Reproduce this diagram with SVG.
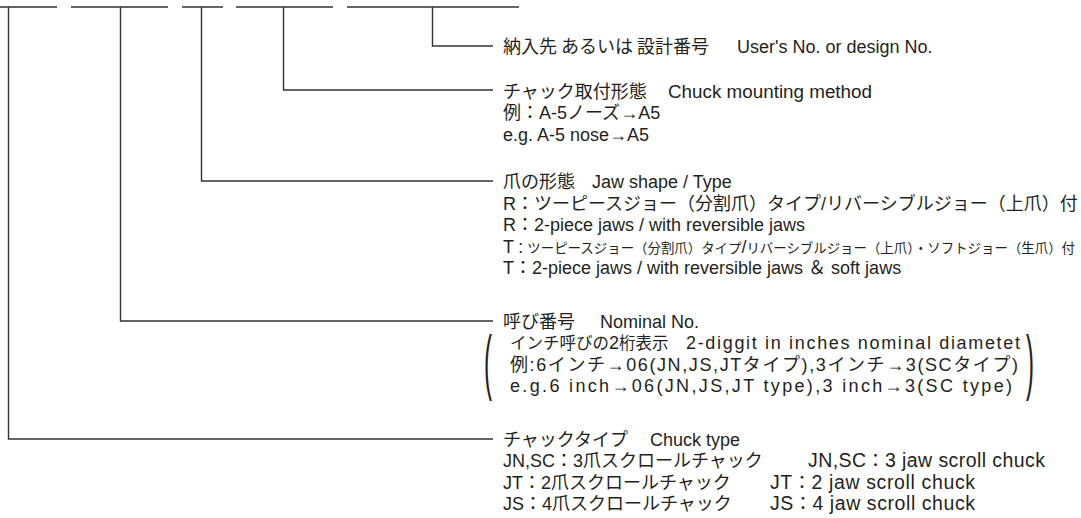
<svg xmlns="http://www.w3.org/2000/svg" width="1081" height="518" viewBox="0 0 1081 518">
<style>
.t{font-family:"Liberation Sans","Noto Sans CJK JP",sans-serif;font-size:18px;fill:#231f20}
.e{font-size:19.5px}
.j{font-family:"Noto Sans CJK JP",sans-serif;font-size:18px}
.k{font-family:"Noto Sans CJK JP",sans-serif;font-size:16.5px}
.s{font-family:"Noto Sans CJK JP",sans-serif;font-size:13.5px}
.p{font-family:"Liberation Sans",sans-serif;font-size:24px;fill:#231f20}
.ln{stroke:#333;stroke-width:1.4;fill:none}
</style>
<rect width="1081" height="518" fill="#fff"/>
<g id="connectors">
<path class="ln" d="M0 7H57M71 7H168M182 7H223M236 7H333M347 7H519"/>
<path class="ln" d="M8.5 7V439H493"/>
<path class="ln" d="M120.5 7V321H493"/>
<path class="ln" d="M201.5 7V181H493"/>
<path class="ln" d="M283.5 7V90H493"/>
<path class="ln" d="M432.5 7V46H493"/>
</g>
<g id="user-no">
<text class="t" x="503" y="53"><tspan class="j">納入先 あるいは 設計番号</tspan></text>
<text class="t" x="737" y="53">User's No. or design No.</text>
</g>
<g id="mounting">
<text class="t" x="503" y="97.5"><tspan class="j">チャック取付形態</tspan></text>
<text class="t" x="668" y="97.5" textLength="204" lengthAdjust="spacingAndGlyphs">Chuck mounting method</text>
<text class="t" x="503" y="119"><tspan class="j">例：</tspan>A-5<tspan class="j">ノーズ</tspan>→A5</text>
<text class="t" x="503" y="140.5">e.g. A-5 nose→A5</text>
</g>
<g id="jaw">
<text class="t" x="503" y="188"><tspan class="j">爪の形態</tspan></text>
<text class="t" x="592" y="188">Jaw shape / Type</text>
<text class="t" x="503" y="209.5">R<tspan class="j">：ツーピースジョー（分割爪）タイプ</tspan>/<tspan class="j">リバーシブルジョー（上爪）付</tspan></text>
<text class="t" x="503" y="231">R<tspan class="j">：</tspan>2-piece jaws / with reversible jaws</text>
<text class="t" x="503" y="252.5" textLength="572" lengthAdjust="spacingAndGlyphs">T<tspan class="s">：ツーピースジョー（分割爪）タイプ</tspan>/<tspan class="s">リバーシブルジョー（上爪）・ソフトジョー（生爪）付</tspan></text>
<text class="t" x="503" y="274">T<tspan class="j">：</tspan>2-piece jaws / with reversible jaws <tspan class="j">＆</tspan> soft jaws</text>
</g>
<g id="nominal">
<text class="t" x="503" y="327.5"><tspan class="j">呼び番号</tspan></text>
<text class="t" x="600" y="327.5">Nominal No.</text>
<text class="p" x="484" y="128.7" transform="scale(1,3)">(</text>
<text class="p" x="1026" y="128.7" transform="scale(1,3)">)</text>
<text class="t" x="510" y="349"><tspan class="k">インチ呼びの</tspan>2<tspan class="k">桁表示</tspan></text>
<text class="t" x="686" y="349" textLength="334" lengthAdjust="spacing">2-diggit in inches nominal diametet</text>
<text class="t" x="510" y="370.5" textLength="508" lengthAdjust="spacing"><tspan class="j">例</tspan>:6<tspan class="j">インチ</tspan>→06(JN,JS,JT<tspan class="j">タイプ</tspan>),3<tspan class="j">インチ</tspan>→3(SC<tspan class="j">タイプ</tspan>)</text>
<text class="t" x="510" y="392" textLength="502" lengthAdjust="spacing">e.g.6 inch→06(JN,JS,JT type),3 inch→3(SC type)</text>
</g>
<g id="chuck-type">
<text class="t" x="503" y="445.5"><tspan class="j">チャックタイプ</tspan></text>
<text class="t" x="650" y="445.5">Chuck type</text>
<text class="t" x="503" y="467">JN,SC<tspan class="j">：</tspan>3<tspan class="j">爪スクロールチャック</tspan></text>
<text class="t e" x="808" y="467" textLength="237" lengthAdjust="spacing">JN,SC<tspan class="j">：</tspan>3 jaw scroll chuck</text>
<text class="t" x="503" y="488.5">JT<tspan class="j">：</tspan>2<tspan class="j">爪スクロールチャック</tspan></text>
<text class="t e" x="770" y="488.5" textLength="205" lengthAdjust="spacing">JT<tspan class="j">：</tspan>2 jaw scroll chuck</text>
<text class="t" x="503" y="510">JS<tspan class="j">：</tspan>4<tspan class="j">爪スクロールチャック</tspan></text>
<text class="t e" x="770" y="510" textLength="205" lengthAdjust="spacing">JS<tspan class="j">：</tspan>4 jaw scroll chuck</text>
</g>
</svg>
